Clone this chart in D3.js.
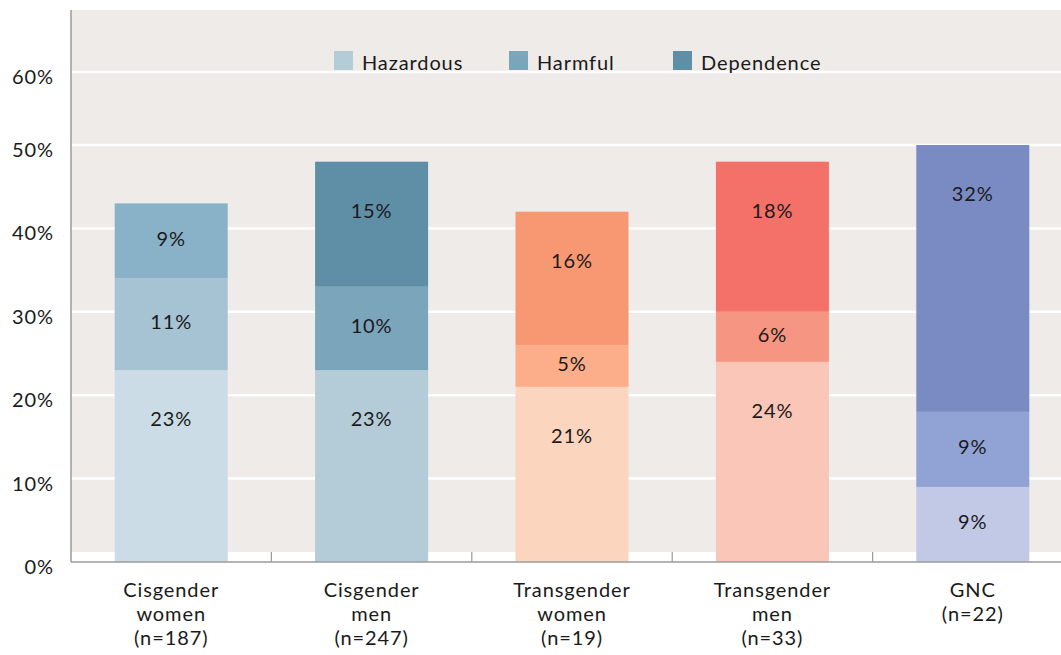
<!DOCTYPE html>
<html>
<head>
<meta charset="utf-8">
<script src="https://cdn.jsdelivr.net/npm/d3@7"></script>
<style>
  html, body { margin: 0; padding: 0; background: #ffffff; }
  svg { display: block; font-family: "Lato", "Open Sans", sans-serif; letter-spacing: 0.9px; }
</style>
</head>
<body>
<svg id="chart" width="1061" height="655"></svg>
<script>
// Alcohol use risk levels by gender identity (stacked, percent of respondents)
const groups = ["Cisgender women", "Cisgender men", "Transgender women", "Transgender men", "GNC"];
const groupLabels = [
  ["Cisgender", "women", "(n=187)"],
  ["Cisgender", "men", "(n=247)"],
  ["Transgender", "women", "(n=19)"],
  ["Transgender", "men", "(n=33)"],
  ["GNC", "(n=22)"]
];
const levels = ["Hazardous", "Harmful", "Dependence"];
const hazardous  = [23, 23, 21, 24, 9];
const harmful    = [11, 10, 5, 6, 9];
const dependence = [9, 15, 16, 18, 32];
const yTicks = [0, 10, 20, 30, 40, 50, 60];

// Per-group shades: [hazardous, harmful, dependence]
const palette = [
  ["#cbdce6", "#a6c3d4", "#89b2c8"],
  ["#b4cbd8", "#7ba5ba", "#5f8fa7"],
  ["#fbd5bd", "#fbae89", "#f79873"],
  ["#f9c6b7", "#f69581", "#f37168"],
  ["#c1c9e6", "#91a3d5", "#7a8bc4"]
];
const legendColors = ["#b4cbd8", "#7ba5ba", "#5f8fa7"];

const svg = d3.select("#chart");
const plotLeft = 71, plotRight = 1061, plotTop = 10;

// Value axis: 0–50 spans most of the height, with the 60% line set a little lower
const y = d3.scaleLinear().domain([0, 50, 60]).range([562, 145, 72]);
const x = d3.scaleBand().domain(groups).range([plotLeft, 1073]).paddingInner(0.436).paddingOuter(0.218);
const step = x.step();

// Plot background
svg.append("rect")
  .attr("x", plotLeft).attr("y", plotTop)
  .attr("width", plotRight - plotLeft).attr("height", y(0) - 10 - plotTop)
  .attr("fill", "#efebe8");

// Gridlines
svg.append("g").selectAll("line")
  .data(yTicks.filter(t => t > 0))
  .join("line")
  .attr("x1", plotLeft).attr("x2", plotRight)
  .attr("y1", d => y(d)).attr("y2", d => y(d))
  .attr("stroke", "#ffffff").attr("stroke-width", 2.5);

// Stacked data
const rows = groups.map((g, i) => ({
  group: g, Hazardous: hazardous[i], Harmful: harmful[i], Dependence: dependence[i], idx: i
}));
const series = d3.stack().keys(levels)(rows);

const segs = [];
series.forEach((s, li) => {
  s.forEach(d => {
    segs.push({ level: li, y0: d[0], y1: d[1], value: d.data[levels[li]], group: d.data.group, idx: d.data.idx });
  });
});

svg.append("g").selectAll("rect")
  .data(segs)
  .join("rect")
  .attr("x", d => x(d.group))
  .attr("width", x.bandwidth())
  .attr("y", d => y(d.y1))
  .attr("height", d => y(d.y0) - y(d.y1))
  .attr("fill", d => palette[d.idx][d.level]);

// Segment value labels
svg.append("g").selectAll("text")
  .data(segs)
  .join("text")
  .attr("x", d => x(d.group) + x.bandwidth() / 2)
  .attr("y", d => {
    const top = y(d.y1), h = y(d.y0) - y(d.y1);
    return top + Math.min(48, h / 2 - 3);
  })
  .attr("text-anchor", "middle")
  .attr("dominant-baseline", "central")
  .attr("font-size", 20)
  .attr("fill", "#1a1a1a")
  .text(d => d.value + "%");

// Axes lines
const axisColor = "#9b9b9b";
svg.append("line")
  .attr("x1", plotLeft).attr("x2", plotLeft)
  .attr("y1", plotTop).attr("y2", y(0))
  .attr("stroke", axisColor).attr("stroke-width", 1.5);
svg.append("line")
  .attr("x1", plotLeft).attr("x2", plotRight)
  .attr("y1", y(0)).attr("y2", y(0))
  .attr("stroke", axisColor).attr("stroke-width", 1.5);

// Category boundary ticks
svg.append("g").selectAll("line")
  .data(groups.slice(1))
  .join("line")
  .attr("x1", d => x(d) - step * 0.218).attr("x2", d => x(d) - step * 0.218)
  .attr("y1", y(0) - 10).attr("y2", y(0))
  .attr("stroke", axisColor).attr("stroke-width", 1.2);

// Y tick labels
svg.append("g").selectAll("text")
  .data(yTicks)
  .join("text")
  .attr("x", 54)
  .attr("y", d => y(d) + 4)
  .attr("text-anchor", "end")
  .attr("dominant-baseline", "central")
  .attr("font-size", 20)
  .attr("fill", "#1a1a1a")
  .text(d => d + "%");

// X category labels
const xl = svg.append("g").selectAll("text")
  .data(groups)
  .join("text")
  .attr("x", d => x(d) + x.bandwidth() / 2)
  .attr("y", 590)
  .attr("text-anchor", "middle")
  .attr("font-size", 20)
  .attr("fill", "#1a1a1a");
xl.selectAll("tspan")
  .data((d, i) => groupLabels[i])
  .join("tspan")
  .attr("x", function () { return d3.select(this.parentNode).attr("x"); })
  .attr("dy", (d, i) => i === 0 ? "0.35em" : 24)
  .text(d => d);

// Legend
const legendX = [334, 509, 673];
const lg = svg.append("g").selectAll("g")
  .data(levels)
  .join("g")
  .attr("transform", (d, i) => `translate(${legendX[i]},51)`);
lg.append("rect")
  .attr("width", 19).attr("height", 19)
  .attr("fill", (d, i) => legendColors[i]);
lg.append("text")
  .attr("x", 28).attr("y", 11)
  .attr("dominant-baseline", "central")
  .attr("font-size", 20)
  .attr("fill", "#1a1a1a")
  .text(d => d);
</script>
</body>
</html>
